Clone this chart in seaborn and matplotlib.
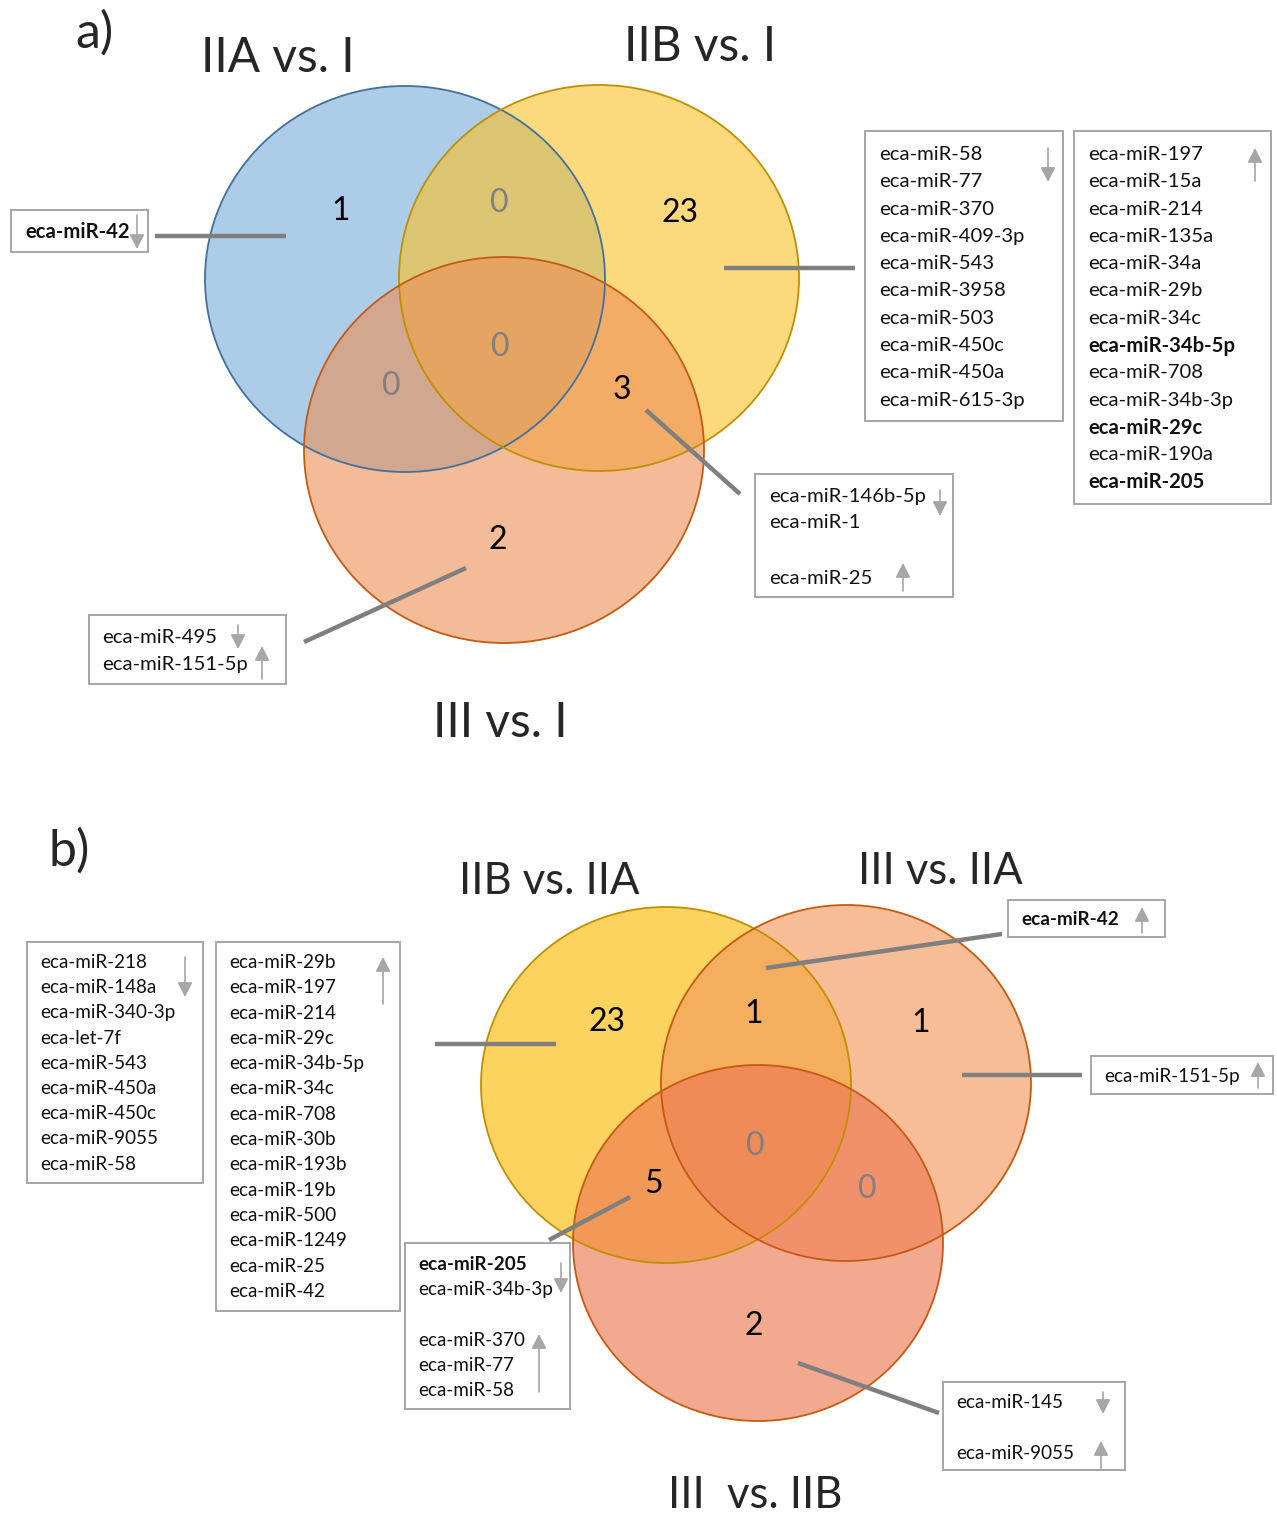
import matplotlib
matplotlib.use("Agg")
import matplotlib.pyplot as plt
from matplotlib.patches import Ellipse, Rectangle
import seaborn as sns

sns.set_theme(style="white")
plt.rcParams['font.family'] = ['Lato', 'DejaVu Sans']

# ---------------- data: panel a ----------------
a_titles = ["IIA vs. I", "IIB vs. I", "III vs. I"]
a_regions = ["IIA only", "IIA&IIB", "IIB only", "all", "IIA&III", "IIB&III", "III only"]
a_counts = [1, 0, 23, 0, 0, 3, 2]

a_iia_down = ["eca-miR-42"]
a_iib_down = ["eca-miR-58", "eca-miR-77", "eca-miR-370", "eca-miR-409-3p", "eca-miR-543",
              "eca-miR-3958", "eca-miR-503", "eca-miR-450c", "eca-miR-450a", "eca-miR-615-3p"]
a_iib_up = ["eca-miR-197", "eca-miR-15a", "eca-miR-214", "eca-miR-135a", "eca-miR-34a",
            "eca-miR-29b", "eca-miR-34c", "eca-miR-34b-5p", "eca-miR-708", "eca-miR-34b-3p",
            "eca-miR-29c", "eca-miR-190a", "eca-miR-205"]
a_iib_iii_down = ["eca-miR-146b-5p", "eca-miR-1"]
a_iib_iii_up = ["eca-miR-25"]
a_iii_down = ["eca-miR-495"]
a_iii_up = ["eca-miR-151-5p"]
a_bold = ["eca-miR-42", "eca-miR-34b-5p", "eca-miR-29c", "eca-miR-205"]

# ---------------- data: panel b ----------------
b_titles = ["IIB vs. IIA", "III vs. IIA", "III  vs. IIB"]
b_regions = ["IIB only", "IIB&III(IIA)", "III(IIA) only", "all", "IIB&III(IIB)", "both III", "III(IIB) only"]
b_counts = [23, 1, 1, 0, 5, 0, 2]

b_iib_down = ["eca-miR-218", "eca-miR-148a", "eca-miR-340-3p", "eca-let-7f", "eca-miR-543",
              "eca-miR-450a", "eca-miR-450c", "eca-miR-9055", "eca-miR-58"]
b_iib_up = ["eca-miR-29b", "eca-miR-197", "eca-miR-214", "eca-miR-29c", "eca-miR-34b-5p",
            "eca-miR-34c", "eca-miR-708", "eca-miR-30b", "eca-miR-193b", "eca-miR-19b",
            "eca-miR-500", "eca-miR-1249", "eca-miR-25", "eca-miR-42"]
b_shared_up = ["eca-miR-42"]
b_iii_iia_up = ["eca-miR-151-5p"]
b_iib_iiib_down = ["eca-miR-205", "eca-miR-34b-3p"]
b_iib_iiib_up = ["eca-miR-370", "eca-miR-77", "eca-miR-58"]
b_iiib_down = ["eca-miR-145"]
b_iiib_up = ["eca-miR-9055"]
b_bold = ["eca-miR-42", "eca-miR-205"]

# ---------------- styling ----------------
W, H = 1277, 1515
fig = plt.figure(figsize=(W / 100, H / 100), dpi=100)
ax = fig.add_axes([0, 0, 1, 1])
ax.set_xlim(0, W)
ax.set_ylim(H, 0)
ax.axis("off")

GRAY_LINE = "#7f7f7f"
GRAY_ARROW = "#a6a6a6"
BOX_EDGE = "#a6a6a6"
NUM = 23


def venn(circles, counts, count_pos):
    for (cx, cy, w, h, fc, ec, a) in circles:
        ax.add_patch(Ellipse((cx, cy), w, h, facecolor=fc, edgecolor="none", alpha=a, zorder=1))
    for (cx, cy, w, h, fc, ec, a) in circles:
        ax.add_patch(Ellipse((cx, cy), w, h, facecolor="none", edgecolor=ec, lw=1.3, zorder=2))
    for n, (x, y) in zip(counts, count_pos):
        ax.text(x, y, str(n), ha="center", va="center", fontsize=NUM,
                color="#000000" if n else "#808080", zorder=5)


def leader(x0, y0, x1, y1):
    ax.plot([x0, x1], [y0, y1], color=GRAY_LINE, lw=3.2, solid_capstyle="butt", zorder=4)


def arrow(x, y0, y1):
    ax.annotate("", xy=(x, y1), xytext=(x, y0),
                arrowprops=dict(arrowstyle="-|>,head_length=0.55,head_width=0.28",
                                color=GRAY_ARROW, lw=1.2, shrinkA=0, shrinkB=0,
                                mutation_scale=16), zorder=6)


def box(x0, y0, x1, y1, tx, names, ys, bold, size):
    ax.add_patch(Rectangle((x0, y0), x1 - x0, y1 - y0, facecolor="white",
                           edgecolor=BOX_EDGE, lw=1.4, zorder=5))
    for name, y in zip(names, ys):
        ax.text(tx, y + 1.5, name, ha="left", va="center", fontsize=size,
                fontweight="bold" if name in bold else "normal", color="#111111", zorder=6)


def rows(y0, step, n):
    return [y0 + i * step for i in range(n)]


# ================= panel a =================
TA, TXA = 34.4, 14.6
ax.text(75, 33, "a)", fontsize=36, ha="left", va="center")
ax.text(278, 58, a_titles[0], fontsize=TA, ha="center", va="center")
ax.text(700, 47, a_titles[1], fontsize=TA, ha="center", va="center")
ax.text(500, 723, a_titles[2], fontsize=TA, ha="center", va="center")

venn([(405, 279, 400, 386, "#76aada", "#41719c", 0.6),
      (599, 278, 400, 386, "#fcc126", "#bf9000", 0.6),
      (504, 450, 400, 386, "#ed8f55", "#c55a11", 0.6)],
     a_counts,
     [(341, 211), (499, 203), (680, 213), (500, 347), (391, 386), (622, 390), (498, 540)])

leader(155, 236, 286, 236)
leader(724, 268, 855, 268)
leader(646, 410, 740, 494)
leader(304, 642, 466, 568)

box(11, 210, 148, 252, 25, a_iia_down, [231], a_bold, TXA)
arrow(137, 215, 249)

box(865, 131, 1063, 421, 879, a_iib_down, rows(153, 27.3, len(a_iib_down)), [], TXA)
arrow(1048, 148, 182)

box(1074, 131, 1271, 504, 1088, a_iib_up, rows(153, 27.3, len(a_iib_up)), a_bold, TXA)
arrow(1255, 181, 148)

box(755, 474, 953, 597, 769, a_iib_iii_down + a_iib_iii_up, [495, 521, 577], [], TXA)
arrow(940, 490, 516)
arrow(903, 591, 563)

box(89, 615, 286, 684, 102, a_iii_down + a_iii_up, [636, 663], [], TXA)
arrow(238, 625, 649)
arrow(262, 679, 646)

# ================= panel b =================
TB, TXB = 31.4, 13.6
ax.text(49, 851, "b)", fontsize=36, ha="left", va="center")
ax.text(549, 881, b_titles[0], fontsize=TB, ha="center", va="center")
ax.text(940, 871, b_titles[1], fontsize=TB, ha="center", va="center")
ax.text(755, 1496, b_titles[2], fontsize=TB, ha="center", va="center")

venn([(666, 1085, 370, 356, "#fbc320", "#bf9000", 0.72),
      (846, 1083, 370, 356, "#f29a5e", "#c55a11", 0.65),
      (758, 1243, 370, 356, "#ee7a55", "#c55a11", 0.65)],
     b_counts,
     [(607, 1022), (754, 1014), (921, 1023), (755, 1146), (654, 1184), (867, 1189), (754, 1326)])

leader(435, 1044, 556, 1044)
leader(766, 968, 1002, 934)
leader(962, 1075, 1082, 1075)
leader(549, 1240, 630, 1197)
leader(798, 1363, 939, 1413)

box(27, 942, 203, 1183, 40, b_iib_down, rows(961, 25.2, len(b_iib_down)), [], TXB)
arrow(185, 957, 997)

box(216, 942, 400, 1311, 229, b_iib_up, rows(961, 25.3, len(b_iib_up)), [], TXB)
arrow(383, 1004, 957)

box(1008, 900, 1165, 937, 1021, b_shared_up, [918], b_bold, TXB)
arrow(1142, 933, 907)

box(1091, 1056, 1273, 1094, 1104, b_iii_iia_up, [1075], [], TXB)
arrow(1258, 1088, 1062)

box(405, 1243, 570, 1409, 418, b_iib_iiib_down + b_iib_iiib_up,
    [1263, 1288, 1339, 1364, 1389], b_bold, TXB)
arrow(561, 1263, 1293)
arrow(539, 1392, 1334)

box(943, 1382, 1125, 1470, 956, b_iiib_down + b_iiib_up, [1401, 1452], [], TXB)
arrow(1103, 1392, 1414)
arrow(1101, 1470, 1441)

fig.savefig("out.png", dpi=100, facecolor="white")
